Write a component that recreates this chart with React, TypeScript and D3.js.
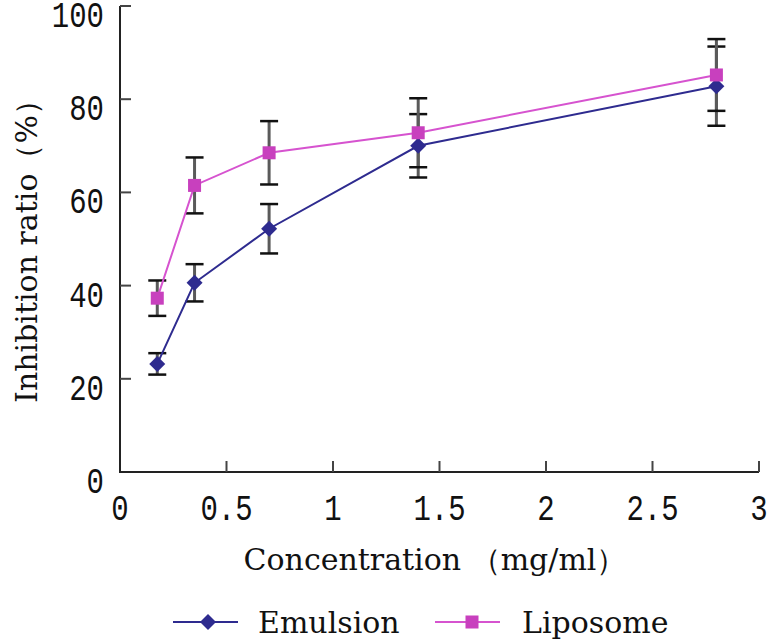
import React from 'react';
import * as d3 from 'd3';

// concentrations (mg/ml) and inhibition ratio (%)
const concentrations = [0.175, 0.35, 0.7, 1.4, 2.8];
const emulsion = [23.2, 40.6, 52.2, 70.0, 82.8];
const emulsionErr = [2.3, 4.0, 5.3, 6.8, 8.5];
const liposome = [37.3, 61.5, 68.5, 72.8, 85.2];
const liposomeErr = [3.8, 6.0, 6.8, 7.4, 7.7];

const xTicks = [0, 0.5, 1, 1.5, 2, 2.5, 3];
const yTicks = [0, 20, 40, 60, 80, 100];

const seriesNames = ['Emulsion', 'Liposome'];

const App: React.FC = () => {
  const width = 767;
  const height = 642;

  const emulsionColor = '#2E2B8F';
  const liposomeColor = '#C840BE';
  const liposomeLine = '#D653CF';
  const stemColor = '#5a5a5a';
  const serif = "'DejaVu Serif', serif";
  const mono = "'Liberation Mono', monospace";
  const digitStretch = 1.3; // tick digits in the original are tall and narrow

  const x = d3.scaleLinear().domain([0, 3]).range([120, 759]);
  const y = d3.scaleLinear().domain([0, 100]).range([472, 6]);

  const line = d3.line<[number, number]>()
    .x(d => x(d[0]))
    .y(d => y(d[1]));

  const emPts = concentrations.map((c, i) => [c, emulsion[i]] as [number, number]);
  const lpPts = concentrations.map((c, i) => [c, liposome[i]] as [number, number]);

  const capHalf = 9;

  const errorBars = (vals: number[], errs: number[], key: string) =>
    concentrations.map((c, i) => {
      const cx = x(c);
      const top = y(vals[i] + errs[i]);
      const bot = y(vals[i] - errs[i]);
      return (
        <g key={key + i}>
          <line x1={cx} x2={cx} y1={top} y2={bot} stroke={stemColor} strokeWidth={3} />
          <line x1={cx - capHalf} x2={cx + capHalf} y1={top} y2={top} stroke="#111" strokeWidth={2.5} />
          <line x1={cx - capHalf} x2={cx + capHalf} y1={bot} y2={bot} stroke="#111" strokeWidth={2.5} />
        </g>
      );
    });

  const diamond = (cx: number, cy: number, k: string) => (
    <path key={k} d={`M${cx},${cy - 8}L${cx + 8},${cy}L${cx},${cy + 8}L${cx - 8},${cy}Z`} fill={emulsionColor} />
  );
  const square = (cx: number, cy: number, k: string) => (
    <rect key={k} x={cx - 6.5} y={cy - 6.5} width={13} height={13} fill={liposomeColor} />
  );

  const legendY = 622;

  return (
    <svg width={width} height={height} style={{ position: 'absolute', left: 0, top: 0, background: '#fff' }}>
      <rect width={width} height={height} fill="#fff" />

      {/* axes */}
      <line x1={x(0)} x2={x(0)} y1={y(100)} y2={y(0) + 1} stroke="#222" strokeWidth={2} />
      <line x1={x(0) - 1} x2={x(3)} y1={y(0)} y2={y(0)} stroke="#222" strokeWidth={2} />
      {yTicks.filter(t => t > 0).map(t => (
        <line key={'yt' + t} x1={x(0)} x2={x(0) + 11} y1={y(t)} y2={y(t)} stroke="#444" strokeWidth={2} />
      ))}
      {xTicks.filter(t => t > 0).map(t => (
        <line key={'xt' + t} x1={x(t)} x2={x(t)} y1={y(0)} y2={y(0) - 11} stroke="#444" strokeWidth={2} />
      ))}

      {/* tick labels */}
      {yTicks.map(t => (
        <text key={'yl' + t} transform={`translate(104,${y(t) + 21}) scale(1,${digitStretch})`}
          textAnchor="end" fontFamily={mono} fontSize={29} fill="#111">
          {t}
        </text>
      ))}
      {xTicks.map(t => (
        <text key={'xl' + t} transform={`translate(${x(t)},520) scale(1,${digitStretch})`}
          textAnchor="middle" fontFamily={mono} fontSize={29} fill="#111">
          {String(t)}
        </text>
      ))}

      {/* axis titles */}
      <text x={435} y={570} textAnchor="middle" fontFamily={serif} fontSize={30} fill="#111">
        Concentration （mg/ml）
      </text>
      <text transform="translate(37,244) rotate(-90)" textAnchor="middle" fontFamily={serif} fontSize={30} fill="#111">
        Inhibition ratio（%）
      </text>

      {/* error bars */}
      {errorBars(emulsion, emulsionErr, 'ee')}
      {errorBars(liposome, liposomeErr, 'le')}

      {/* lines */}
      <path d={line(emPts) ?? ''} fill="none" stroke={emulsionColor} strokeWidth={2} />
      <path d={line(lpPts) ?? ''} fill="none" stroke={liposomeLine} strokeWidth={2} />

      {/* markers */}
      {emPts.map((p, i) => diamond(x(p[0]), y(p[1]), 'd' + i))}
      {lpPts.map((p, i) => square(x(p[0]), y(p[1]), 's' + i))}

      {/* legend */}
      <line x1={173} x2={238} y1={legendY} y2={legendY} stroke={emulsionColor} strokeWidth={2} />
      {diamond(208, legendY, 'ld')}
      <text x={258} y={633} fontFamily={serif} fontSize={30} fill="#111">{seriesNames[0]}</text>
      <line x1={435} x2={500} y1={legendY} y2={legendY} stroke={liposomeLine} strokeWidth={2} />
      {square(472, legendY, 'ls')}
      <text x={522} y={633} fontFamily={serif} fontSize={30} fill="#111">{seriesNames[1]}</text>
    </svg>
  );
};

export default App;
